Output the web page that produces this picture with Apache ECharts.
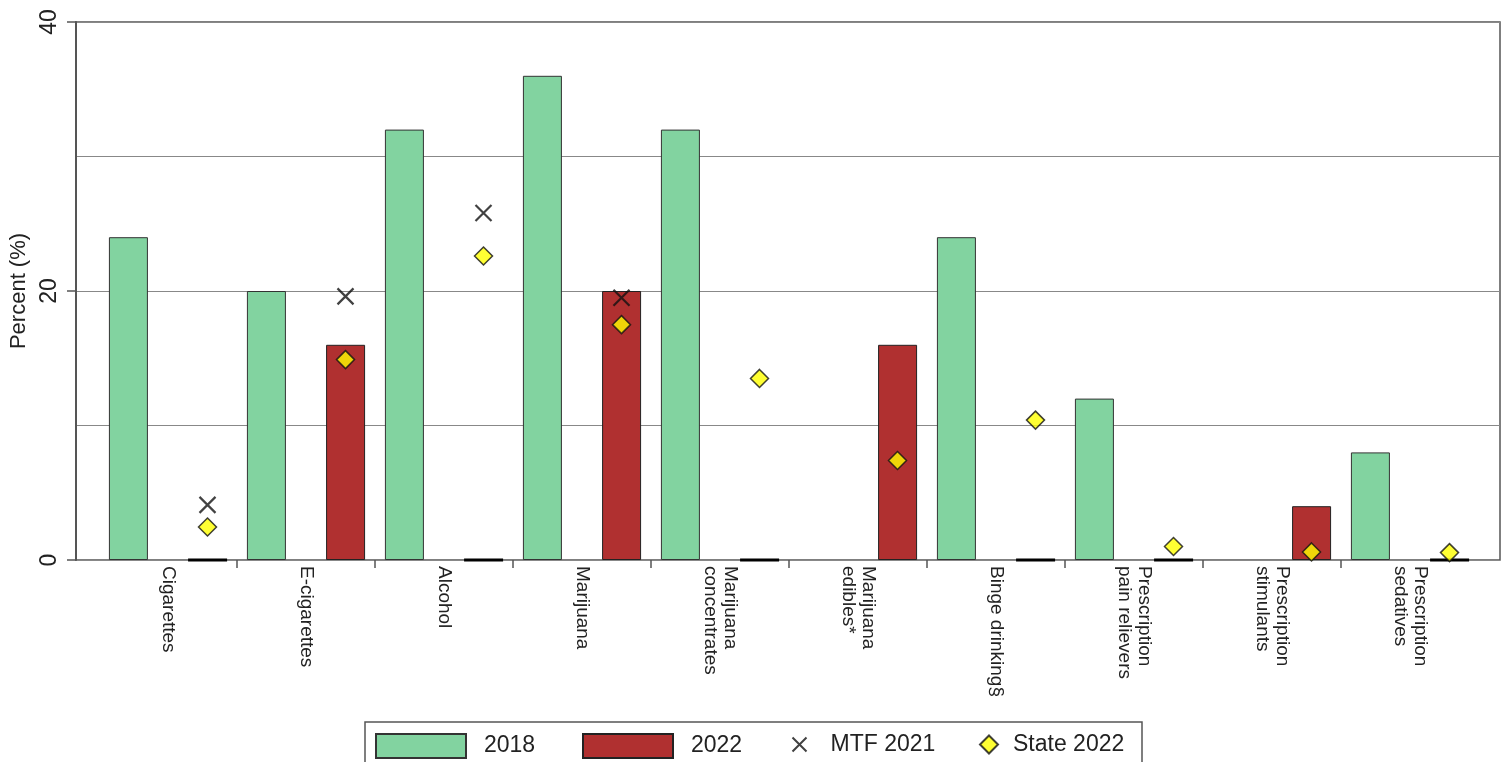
<!DOCTYPE html>
<html>
<head>
<meta charset="utf-8">
<script src="https://cdn.jsdelivr.net/npm/echarts@6/dist/echarts.min.js"></script>
<style>
html,body{margin:0;padding:0;background:#fff;}
#c{width:1506px;height:762px;}
</style>
</head>
<body>
<div id="c"></div>
<script>
const categories = ['Cigarettes', 'E-cigarettes', 'Alcohol', 'Marijuana', 'Marijuana\nconcentrates', 'Marijuana\nedibles*', 'Binge drinking§', 'Prescription\npain relievers', 'Prescription\nstimulants', 'Prescription\nsedatives'];
const values2018 = [24, 20, 32, 36, 32, '-', 24, 12, '-', 8];
const values2022 = [0, 16, 0, 20, 0, 16, 0, 0, 4, 0];
const mtf2021 = [4.1, 19.6, 25.8, 19.5, '-', '-', '-', '-', '-', '-'];
const state2022 = [2.45, 14.9, 22.6, 17.5, 13.5, 7.4, 10.4, 1.0, 0.6, 0.55];
const yTicks = [0, 20, 40];

const FONT = "'Liberation Sans', Arial, sans-serif";
const TXT = '#222';
const AX = '#555';
const xPath = 'path://M0,0L10,10M10,0L0,10';

// zero-valued bars are drawn as a dark line on the baseline, as in the reference
function barData(arr) {
  return arr.map(function (v) {
    if (v === 0) return {value: 0, itemStyle: {borderColor: '#000', borderWidth: 3}};
    return v;
  });
}
// tick marks only between categories (not at the two outer ends)
const innerBoundaries = categories.slice(1).map(function (_, i) { return i + 1; });

const LEG_TOP = 733;
const chart = echarts.init(document.getElementById('c'), null, {renderer: 'canvas'});
const option = {
  animation: false,
  backgroundColor: '#fff',
  textStyle: {fontFamily: FONT, color: TXT},
  grid: [
    {left: 76, right: 6, top: 22, bottom: 202, show: true, borderColor: AX, borderWidth: 1.5, backgroundColor: 'transparent'},
    {left: 99, right: 27, top: 22, bottom: 202}
  ],
  xAxis: [
    {gridIndex: 0, type: 'value', min: 0, max: 1, show: false},
    {
      gridIndex: 1, type: 'category', data: categories,
      axisLine: {show: false},
      axisTick: {show: false},
      axisLabel: {rotate: -90, fontSize: 19, lineHeight: 20, color: TXT, fontFamily: FONT, margin: 6, interval: 0}
    },
    {
      gridIndex: 1, type: 'value', min: 0, max: categories.length, position: 'bottom',
      axisLine: {show: false}, axisLabel: {show: false}, splitLine: {show: false},
      axisTick: {show: true, length: 8, inside: false, lineStyle: {color: AX, width: 1.5}, customValues: innerBoundaries}
    }
  ],
  yAxis: [
    {
      gridIndex: 0, type: 'value', min: yTicks[0], max: yTicks[yTicks.length - 1], interval: 20,
      name: 'Percent (%)', nameLocation: 'middle', nameGap: 39, nameRotate: 90,
      nameTextStyle: {fontSize: 22, color: TXT, fontFamily: FONT},
      axisLine: {show: true, lineStyle: {color: AX, width: 2}},
      axisTick: {show: true, length: 9, lineStyle: {color: AX, width: 1.5}},
      axisLabel: {rotate: 90, fontSize: 23, color: TXT, fontFamily: FONT, margin: 15},
      splitLine: {show: false}
    },
    {
      gridIndex: 0, type: 'value', min: 0, max: 40, interval: 10,
      axisLine: {show: false}, axisTick: {show: false}, axisLabel: {show: false},
      splitLine: {show: true, lineStyle: {color: '#888', width: 1.2}}
    },
    {gridIndex: 1, type: 'value', min: 0, max: 40, show: false, splitLine: {show: false}}
  ],
  legend: [
    {left: 375, top: LEG_TOP, padding: 0, itemWidth: 90, itemHeight: 24,
      data: [{name: '2018', icon: 'rect'}],
      textStyle: {fontSize: 23, color: TXT, fontFamily: FONT, padding: [0, 0, 0, 13]}},
    {left: 582, top: LEG_TOP, padding: 0, itemWidth: 90, itemHeight: 24,
      data: [{name: '2022', icon: 'rect'}],
      textStyle: {fontSize: 23, color: TXT, fontFamily: FONT, padding: [0, 0, 0, 13]}},
    {left: 790, top: LEG_TOP, padding: 0, itemWidth: 14, itemHeight: 14,
      data: [{name: 'MTF 2021', icon: xPath, itemStyle: {color: 'none', borderColor: '#111', borderWidth: 2}}],
      textStyle: {fontSize: 23, color: TXT, fontFamily: FONT, padding: [0, 0, 0, 19]}},
    {left: 979, top: LEG_TOP, padding: 0, itemWidth: 18, itemHeight: 18,
      data: [{name: 'State 2022', icon: 'diamond'}],
      textStyle: {fontSize: 23, color: TXT, fontFamily: FONT, padding: [0, 0, 0, 10]}}
  ],
  graphic: [
    {type: 'rect', shape: {x: 365, y: 722, width: 777, height: 60}, style: {fill: 'none', stroke: AX, lineWidth: 1.5}, silent: true}
  ],
  series: [
    {name: '2018', type: 'bar', xAxisIndex: 1, yAxisIndex: 2, data: barData(values2018),
      barWidth: 39, barGap: '103%',
      itemStyle: {color: '#82D3A0', borderColor: '#333', borderWidth: 1}},
    {name: '2022', type: 'bar', xAxisIndex: 1, yAxisIndex: 2, data: barData(values2022),
      barWidth: 39, barGap: '103%',
      itemStyle: {color: '#B03030', borderColor: '#222', borderWidth: 1}},
    {name: 'MTF 2021', type: 'scatter', xAxisIndex: 1, yAxisIndex: 2, data: mtf2021,
      symbol: xPath, symbolSize: 16, symbolOffset: [39.5, 0],
      itemStyle: {color: 'none', borderColor: '#111', borderWidth: 2.2}, z: 5},
    {name: 'State 2022', type: 'scatter', xAxisIndex: 1, yAxisIndex: 2, data: state2022,
      symbol: 'diamond', symbolSize: 18, symbolOffset: [39.5, 0],
      itemStyle: {color: '#FFFF00', borderColor: '#111', borderWidth: 1.5}, z: 6}
  ]
};
chart.setOption(option);
</script>
</body>
</html>
